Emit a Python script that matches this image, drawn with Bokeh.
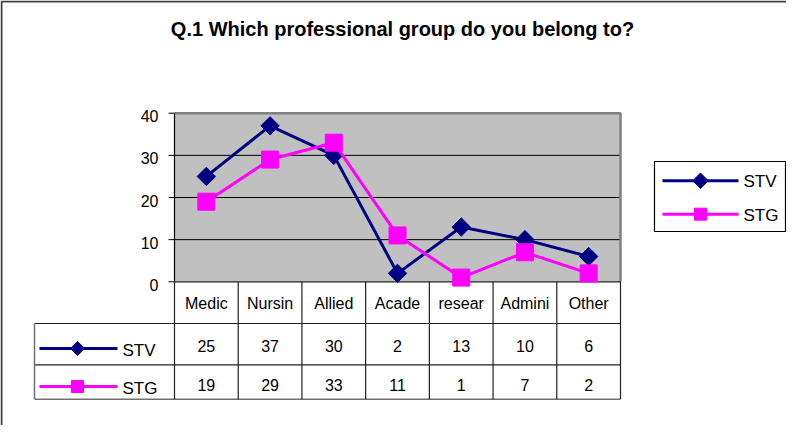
import math
from bokeh.plotting import figure
from bokeh.models import Range1d
from bokeh.core.properties import value
from bokeh.embed import file_html
from bokeh.resources import INLINE

# ---------------- data ----------------
title_text = "Q.1 Which professional group do you belong to?"
categories = ["Medic", "Nursin", "Allied", "Acade", "resear", "Admini", "Other"]
series_names = ["STV", "STG"]
stv_values = [25, 37, 30, 2, 13, 10, 6]
stg_values = [19, 29, 33, 11, 1, 7, 2]
y_ticks = [0, 10, 20, 30, 40]

# ---------------- styles ----------------
STV_COLOR = "#000080"
STG_COLOR = "#FF00FF"
PLOT_BG = "#C0C0C0"
FONT = value("Liberation Sans")

# ---------------- layout (page pixels) ----------------
W, H = 786, 425
OX, OY = 8, 8
L, R = 182.0, 628.0          # plot area left/right
Z, TOP = 289.3, 120.7         # pixel of y=0 and y=max tick
n = len(categories)
ymax = max(y_ticks)
COLW = (R - L) / n
PXY = (Z - TOP) / ymax


def fx(px):
    return (px - L) / COLW


def fy(py):
    return (Z - py) / PXY


p = figure(width=W, height=H,
           x_range=Range1d(fx(OX), fx(OX + W)),
           y_range=Range1d(fy(OY + H), fy(OY)),
           output_backend="svg", toolbar_location=None,
           min_border=0, x_axis_type=None, y_axis_type=None)
p.outline_line_color = None
p.background_fill_color = "white"
p.border_fill_color = "white"

xs = [i + 0.5 for i in range(n)]

# outer chart border (top and left)
p.line(x=[fx(9), fx(9), fx(OX + W)], y=[fy(OY + H), fy(9), fy(9)],
       line_color="#404040", line_width=2)

# title
p.text(x=[fx(410)], y=[fy(36)], text=[title_text], text_font=FONT,
       text_font_size="20px", text_font_style="bold", text_color="black",
       text_align="center", text_baseline="middle")

# plot area
p.quad(left=[0], right=[n], bottom=[0], top=[ymax], fill_color=PLOT_BG, line_color=None)
inner = [t for t in y_ticks if 0 < t < ymax]
p.segment(x0=[0] * len(inner), x1=[n] * len(inner), y0=inner, y1=inner,
          line_color="black", line_width=1)
p.line(x=[0, n, n], y=[ymax, ymax, 0], line_color="#808080", line_width=2.5)

# y axis
p.segment(x0=[0], x1=[0], y0=[0], y1=[ymax], line_color="black", line_width=1.2)
p.segment(x0=[fx(176)] * len(y_ticks), x1=[0] * len(y_ticks), y0=y_ticks, y1=y_ticks,
          line_color="black", line_width=1)
p.text(x=[fx(166)] * len(y_ticks), y=y_ticks, text=[str(t) for t in y_ticks],
       text_font=FONT, text_font_size="16px", text_color="black",
       text_align="right", text_baseline="middle", y_offset=3)

# ---------------- data table ----------------
T_LEFT = 42.0
ROW1, ROW2, ROW3 = 331.0, 372.3, 406.7
GRID = "#202020"
OUTER = "#707070"
# horizontal lines
p.segment(x0=[0, fx(T_LEFT), fx(T_LEFT)], x1=[n, n, n],
          y0=[0, fy(ROW1), fy(ROW2)], y1=[0, fy(ROW1), fy(ROW2)],
          line_color=GRID, line_width=1.2)
p.segment(x0=[fx(T_LEFT)], x1=[n], y0=[fy(ROW3)], y1=[fy(ROW3)],
          line_color=OUTER, line_width=1.5)
# vertical lines
bounds = list(range(n + 1))
p.segment(x0=bounds, x1=bounds, y0=[0] * len(bounds), y1=[fy(ROW3)] * len(bounds),
          line_color=GRID, line_width=1.2)
p.segment(x0=[fx(T_LEFT)], x1=[fx(T_LEFT)], y0=[fy(ROW1)], y1=[fy(ROW3)],
          line_color=OUTER, line_width=1.5)

# category labels
p.text(x=xs, y=[fy(310.5)] * n, text=categories, text_font=FONT, text_font_size="16px",
       text_color="black", text_align="center", text_baseline="middle")
# values
p.text(x=xs, y=[fy(353.5)] * n, text=[str(v) for v in stv_values], text_font=FONT,
       text_font_size="16px", text_color="black", text_align="center", text_baseline="middle")
p.text(x=xs, y=[fy(392.5)] * n, text=[str(v) for v in stg_values], text_font=FONT,
       text_font_size="16px", text_color="black", text_align="center", text_baseline="middle")

# row headers (legend keys in table)
for name, color, marker, size, angle, ry in [
        (series_names[0], STV_COLOR, "square", 10, math.pi / 4, 356.0),
        (series_names[1], STG_COLOR, "square", 12, 0, 394.0)]:
    p.line(x=[fx(47), fx(125)], y=[fy(ry), fy(ry)], line_color=color, line_width=3)
    p.scatter(x=[fx(85)], y=[fy(ry)], marker=marker, size=size, angle=angle,
              fill_color=color, line_color=color)
    p.text(x=[fx(130)], y=[fy(ry + 1.5)], text=[name], text_font=FONT, text_font_size="17px",
           text_color="black", text_align="left", text_baseline="middle")

# ---------------- series ----------------
p.line(x=xs, y=stv_values, line_color=STV_COLOR, line_width=3)
p.scatter(x=xs, y=stv_values, marker="square", angle=math.pi / 4, size=13,
          fill_color=STV_COLOR, line_color=STV_COLOR)
p.line(x=xs, y=stg_values, line_color=STG_COLOR, line_width=3)
p.scatter(x=xs, y=stg_values, marker="square", size=17,
          fill_color=STG_COLOR, line_color=STG_COLOR)

# ---------------- legend ----------------
LG_L, LG_R, LG_T, LG_B = 662.0, 793.0, 169.0, 239.0
p.quad(left=[fx(LG_L)], right=[fx(LG_R)], bottom=[fy(LG_B)], top=[fy(LG_T)],
       fill_color="white", line_color="black", line_width=1.2)
for name, color, size, angle, ry in [
        (series_names[0], STV_COLOR, 11, math.pi / 4, 188.3),
        (series_names[1], STG_COLOR, 12, 0, 221.7)]:
    p.line(x=[fx(670), fx(746)], y=[fy(ry), fy(ry)], line_color=color, line_width=3)
    p.scatter(x=[fx(708)], y=[fy(ry)], marker="square", size=size, angle=angle,
              fill_color=color, line_color=color)
    p.text(x=[fx(751)], y=[fy(ry + 1)], text=[name], text_font=FONT, text_font_size="17px",
           text_color="black", text_align="left", text_baseline="middle")

open("out.html", "w").write(file_html(p, INLINE))
